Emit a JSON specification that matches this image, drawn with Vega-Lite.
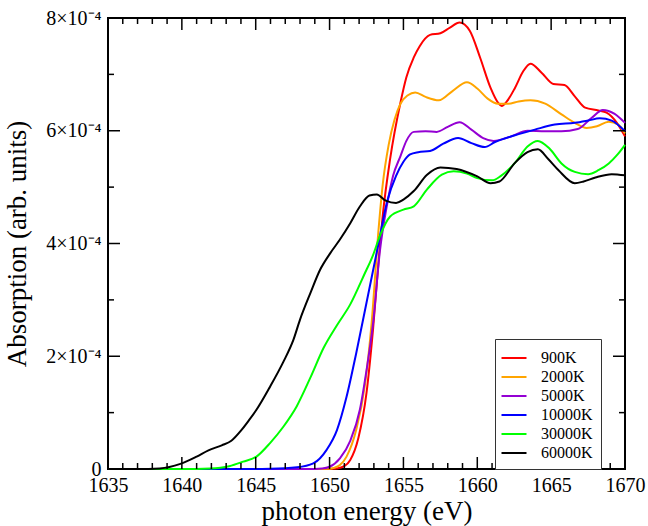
{
  "$schema": "https://vega.github.io/schema/vega-lite/v6.json",
  "width": 517,
  "height": 451,
  "autosize": {"type": "none"},
  "padding": {"left": 108, "top": 18, "right": 23, "bottom": 57},
  "background": "white",
  "config": {
    "font": "Liberation Serif",
    "view": {"stroke": "black", "strokeWidth": 2},
    "axis": {"domain": false, "grid": false, "ticks": false, "tickSize": 0, "labelOverlap": false, "labelFlush": false}
  },
  "datasets": {
    "curves": [
      {"T":"900K","E":1635,"A":0},{"T":"900K","E":1645,"A":0},{"T":"900K","E":1649,"A":0},{"T":"900K","E":1650,"A":0.003e-4},{"T":"900K","E":1650.5,"A":0.01e-4},{"T":"900K","E":1651,"A":0.05e-4},{"T":"900K","E":1651.4,"A":0.16e-4},{"T":"900K","E":1651.95,"A":0.55e-4},{"T":"900K","E":1652.5,"A":1.35e-4},{"T":"900K","E":1652.95,"A":2.5e-4},{"T":"900K","E":1653.4,"A":3.95e-4},{"T":"900K","E":1653.6,"A":4.5e-4},{"T":"900K","E":1654.1,"A":5.5e-4},{"T":"900K","E":1654.8,"A":6.5e-4},{"T":"900K","E":1655.2,"A":6.95e-4},{"T":"900K","E":1655.7,"A":7.3e-4},{"T":"900K","E":1656.1,"A":7.5e-4},{"T":"900K","E":1656.8,"A":7.7e-4},{"T":"900K","E":1657.5,"A":7.73e-4},{"T":"900K","E":1658.15,"A":7.83e-4},{"T":"900K","E":1658.8,"A":7.92e-4},{"T":"900K","E":1659.5,"A":7.77e-4},{"T":"900K","E":1660.2,"A":7.29e-4},{"T":"900K","E":1660.9,"A":6.76e-4},{"T":"900K","E":1661.4,"A":6.5e-4},{"T":"900K","E":1661.65,"A":6.44e-4},{"T":"900K","E":1662.0,"A":6.52e-4},{"T":"900K","E":1662.55,"A":6.76e-4},{"T":"900K","E":1663.1,"A":7.05e-4},{"T":"900K","E":1663.6,"A":7.19e-4},{"T":"900K","E":1664.35,"A":7.03e-4},{"T":"900K","E":1665.15,"A":6.83e-4},{"T":"900K","E":1665.9,"A":6.81e-4},{"T":"900K","E":1666.6,"A":6.61e-4},{"T":"900K","E":1667.3,"A":6.41e-4},{"T":"900K","E":1668.2,"A":6.36e-4},{"T":"900K","E":1668.75,"A":6.32e-4},{"T":"900K","E":1669.45,"A":6.14e-4},{"T":"900K","E":1670,"A":5.9e-4},
      {"T":"2000K","E":1635,"A":0},{"T":"2000K","E":1645,"A":0},{"T":"2000K","E":1649,"A":0},{"T":"2000K","E":1650,"A":0.005e-4},{"T":"2000K","E":1650.3,"A":0.02e-4},{"T":"2000K","E":1650.7,"A":0.07e-4},{"T":"2000K","E":1651.15,"A":0.22e-4},{"T":"2000K","E":1651.8,"A":0.69e-4},{"T":"2000K","E":1652.4,"A":1.5e-4},{"T":"2000K","E":1652.85,"A":2.6e-4},{"T":"2000K","E":1653.3,"A":4.2e-4},{"T":"2000K","E":1653.6,"A":5.05e-4},{"T":"2000K","E":1654.0,"A":5.75e-4},{"T":"2000K","E":1654.4,"A":6.2e-4},{"T":"2000K","E":1654.8,"A":6.48e-4},{"T":"2000K","E":1655.3,"A":6.63e-4},{"T":"2000K","E":1655.8,"A":6.68e-4},{"T":"2000K","E":1656.5,"A":6.6e-4},{"T":"2000K","E":1657.4,"A":6.54e-4},{"T":"2000K","E":1658.3,"A":6.7e-4},{"T":"2000K","E":1659.3,"A":6.86e-4},{"T":"2000K","E":1660.0,"A":6.75e-4},{"T":"2000K","E":1660.7,"A":6.57e-4},{"T":"2000K","E":1661.4,"A":6.48e-4},{"T":"2000K","E":1662.1,"A":6.48e-4},{"T":"2000K","E":1662.8,"A":6.52e-4},{"T":"2000K","E":1663.6,"A":6.54e-4},{"T":"2000K","E":1664.6,"A":6.48e-4},{"T":"2000K","E":1665.7,"A":6.29e-4},{"T":"2000K","E":1666.6,"A":6.14e-4},{"T":"2000K","E":1667.4,"A":6.05e-4},{"T":"2000K","E":1668.1,"A":6.08e-4},{"T":"2000K","E":1668.9,"A":6.16e-4},{"T":"2000K","E":1669.55,"A":6.11e-4},{"T":"2000K","E":1670,"A":5.95e-4},
      {"T":"5000K","E":1635,"A":0},{"T":"5000K","E":1645,"A":0},{"T":"5000K","E":1648.5,"A":0},{"T":"5000K","E":1649.5,"A":0.01e-4},{"T":"5000K","E":1650,"A":0.04e-4},{"T":"5000K","E":1650.7,"A":0.19e-4},{"T":"5000K","E":1651.4,"A":0.5e-4},{"T":"5000K","E":1652.05,"A":1.05e-4},{"T":"5000K","E":1652.5,"A":1.75e-4},{"T":"5000K","E":1652.95,"A":2.6e-4},{"T":"5000K","E":1653.4,"A":3.85e-4},{"T":"5000K","E":1653.9,"A":4.7e-4},{"T":"5000K","E":1654.3,"A":5.2e-4},{"T":"5000K","E":1654.8,"A":5.55e-4},{"T":"5000K","E":1655.2,"A":5.82e-4},{"T":"5000K","E":1655.7,"A":5.98e-4},{"T":"5000K","E":1656.5,"A":5.99e-4},{"T":"5000K","E":1657.25,"A":5.98e-4},{"T":"5000K","E":1658.0,"A":6.07e-4},{"T":"5000K","E":1658.8,"A":6.15e-4},{"T":"5000K","E":1659.6,"A":6.02e-4},{"T":"5000K","E":1660.4,"A":5.87e-4},{"T":"5000K","E":1661.1,"A":5.82e-4},{"T":"5000K","E":1662.3,"A":5.9e-4},{"T":"5000K","E":1663.4,"A":6.0e-4},{"T":"5000K","E":1664.6,"A":5.99e-4},{"T":"5000K","E":1665.7,"A":5.99e-4},{"T":"5000K","E":1666.8,"A":6.03e-4},{"T":"5000K","E":1667.75,"A":6.23e-4},{"T":"5000K","E":1668.5,"A":6.37e-4},{"T":"5000K","E":1669.3,"A":6.3e-4},{"T":"5000K","E":1670,"A":6.14e-4},
      {"T":"10000K","E":1635,"A":0},{"T":"10000K","E":1644,"A":0},{"T":"10000K","E":1646,"A":0.005e-4},{"T":"10000K","E":1647.8,"A":0.03e-4},{"T":"10000K","E":1648.9,"A":0.1e-4},{"T":"10000K","E":1649.8,"A":0.34e-4},{"T":"10000K","E":1650.5,"A":0.69e-4},{"T":"10000K","E":1651.15,"A":1.28e-4},{"T":"10000K","E":1651.8,"A":2.05e-4},{"T":"10000K","E":1652.5,"A":2.95e-4},{"T":"10000K","E":1653.2,"A":3.85e-4},{"T":"10000K","E":1653.9,"A":4.75e-4},{"T":"10000K","E":1654.5,"A":5.2e-4},{"T":"10000K","E":1655.0,"A":5.45e-4},{"T":"10000K","E":1655.45,"A":5.58e-4},{"T":"10000K","E":1656.0,"A":5.62e-4},{"T":"10000K","E":1656.8,"A":5.64e-4},{"T":"10000K","E":1657.7,"A":5.77e-4},{"T":"10000K","E":1658.7,"A":5.87e-4},{"T":"10000K","E":1659.6,"A":5.78e-4},{"T":"10000K","E":1660.5,"A":5.71e-4},{"T":"10000K","E":1661.2,"A":5.8e-4},{"T":"10000K","E":1662.55,"A":5.92e-4},{"T":"10000K","E":1663.9,"A":6.02e-4},{"T":"10000K","E":1665.25,"A":6.11e-4},{"T":"10000K","E":1666.6,"A":6.14e-4},{"T":"10000K","E":1667.5,"A":6.18e-4},{"T":"10000K","E":1668.3,"A":6.22e-4},{"T":"10000K","E":1669.1,"A":6.18e-4},{"T":"10000K","E":1670,"A":5.99e-4},
      {"T":"30000K","E":1635,"A":0},{"T":"30000K","E":1640,"A":0},{"T":"30000K","E":1641.9,"A":0.01e-4},{"T":"30000K","E":1643.2,"A":0.05e-4},{"T":"30000K","E":1644.15,"A":0.13e-4},{"T":"30000K","E":1645.05,"A":0.22e-4},{"T":"30000K","E":1645.97,"A":0.46e-4},{"T":"30000K","E":1646.87,"A":0.75e-4},{"T":"30000K","E":1647.77,"A":1.11e-4},{"T":"30000K","E":1648.7,"A":1.62e-4},{"T":"30000K","E":1649.6,"A":2.15e-4},{"T":"30000K","E":1650.5,"A":2.55e-4},{"T":"30000K","E":1651.4,"A":2.92e-4},{"T":"30000K","E":1652.35,"A":3.45e-4},{"T":"30000K","E":1652.95,"A":3.8e-4},{"T":"30000K","E":1653.4,"A":4.13e-4},{"T":"30000K","E":1654.1,"A":4.48e-4},{"T":"30000K","E":1655.0,"A":4.6e-4},{"T":"30000K","E":1655.7,"A":4.66e-4},{"T":"30000K","E":1656.6,"A":4.96e-4},{"T":"30000K","E":1657.6,"A":5.22e-4},{"T":"30000K","E":1658.4,"A":5.28e-4},{"T":"30000K","E":1659.3,"A":5.24e-4},{"T":"30000K","E":1660.0,"A":5.16e-4},{"T":"30000K","E":1661.0,"A":5.12e-4},{"T":"30000K","E":1661.6,"A":5.2e-4},{"T":"30000K","E":1662.55,"A":5.43e-4},{"T":"30000K","E":1663.4,"A":5.72e-4},{"T":"30000K","E":1664.1,"A":5.82e-4},{"T":"30000K","E":1664.9,"A":5.68e-4},{"T":"30000K","E":1665.7,"A":5.42e-4},{"T":"30000K","E":1666.6,"A":5.27e-4},{"T":"30000K","E":1667.5,"A":5.23e-4},{"T":"30000K","E":1668.2,"A":5.3e-4},{"T":"30000K","E":1668.9,"A":5.42e-4},{"T":"30000K","E":1669.5,"A":5.58e-4},{"T":"30000K","E":1670,"A":5.75e-4},
      {"T":"60000K","E":1635,"A":0},{"T":"60000K","E":1637,"A":0},{"T":"60000K","E":1638.5,"A":0.01e-4},{"T":"60000K","E":1639.9,"A":0.09e-4},{"T":"60000K","E":1641,"A":0.22e-4},{"T":"60000K","E":1641.8,"A":0.33e-4},{"T":"60000K","E":1642.7,"A":0.42e-4},{"T":"60000K","E":1643.35,"A":0.5e-4},{"T":"60000K","E":1644.0,"A":0.68e-4},{"T":"60000K","E":1644.5,"A":0.85e-4},{"T":"60000K","E":1645.05,"A":1.05e-4},{"T":"60000K","E":1645.97,"A":1.46e-4},{"T":"60000K","E":1646.87,"A":1.9e-4},{"T":"60000K","E":1647.55,"A":2.29e-4},{"T":"60000K","E":1648.0,"A":2.65e-4},{"T":"60000K","E":1648.7,"A":3.12e-4},{"T":"60000K","E":1649.35,"A":3.53e-4},{"T":"60000K","E":1650.05,"A":3.83e-4},{"T":"60000K","E":1650.7,"A":4.07e-4},{"T":"60000K","E":1651.4,"A":4.36e-4},{"T":"60000K","E":1652.06,"A":4.66e-4},{"T":"60000K","E":1652.7,"A":4.85e-4},{"T":"60000K","E":1653.2,"A":4.87e-4},{"T":"60000K","E":1653.8,"A":4.76e-4},{"T":"60000K","E":1654.5,"A":4.72e-4},{"T":"60000K","E":1655.0,"A":4.78e-4},{"T":"60000K","E":1655.7,"A":4.93e-4},{"T":"60000K","E":1656.6,"A":5.22e-4},{"T":"60000K","E":1657.5,"A":5.35e-4},{"T":"60000K","E":1658.6,"A":5.32e-4},{"T":"60000K","E":1660.0,"A":5.19e-4},{"T":"60000K","E":1660.9,"A":5.07e-4},{"T":"60000K","E":1661.5,"A":5.1e-4},{"T":"60000K","E":1662.55,"A":5.43e-4},{"T":"60000K","E":1663.4,"A":5.62e-4},{"T":"60000K","E":1664.1,"A":5.67e-4},{"T":"60000K","E":1664.8,"A":5.5e-4},{"T":"60000K","E":1665.5,"A":5.3e-4},{"T":"60000K","E":1666.6,"A":5.07e-4},{"T":"60000K","E":1667.2,"A":5.1e-4},{"T":"60000K","E":1668.0,"A":5.17e-4},{"T":"60000K","E":1669.1,"A":5.23e-4},{"T":"60000K","E":1670,"A":5.21e-4}
    ],
    "xticks": [
      {"E":1635,"kind":"major"},{"E":1636,"kind":"minor"},{"E":1637,"kind":"minor"},{"E":1638,"kind":"minor"},{"E":1639,"kind":"minor"},
      {"E":1640,"kind":"major"},{"E":1641,"kind":"minor"},{"E":1642,"kind":"minor"},{"E":1643,"kind":"minor"},{"E":1644,"kind":"minor"},
      {"E":1645,"kind":"major"},{"E":1646,"kind":"minor"},{"E":1647,"kind":"minor"},{"E":1648,"kind":"minor"},{"E":1649,"kind":"minor"},
      {"E":1650,"kind":"major"},{"E":1651,"kind":"minor"},{"E":1652,"kind":"minor"},{"E":1653,"kind":"minor"},{"E":1654,"kind":"minor"},
      {"E":1655,"kind":"major"},{"E":1656,"kind":"minor"},{"E":1657,"kind":"minor"},{"E":1658,"kind":"minor"},{"E":1659,"kind":"minor"},
      {"E":1660,"kind":"major"},{"E":1661,"kind":"minor"},{"E":1662,"kind":"minor"},{"E":1663,"kind":"minor"},{"E":1664,"kind":"minor"},
      {"E":1665,"kind":"major"},{"E":1666,"kind":"minor"},{"E":1667,"kind":"minor"},{"E":1668,"kind":"minor"},{"E":1669,"kind":"minor"},
      {"E":1670,"kind":"major"}
    ],
    "yticks": [
      {"A":0,"kind":"major"},{"A":1e-4,"kind":"minor"},{"A":2e-4,"kind":"major"},{"A":3e-4,"kind":"minor"},{"A":4e-4,"kind":"major"},
      {"A":5e-4,"kind":"minor"},{"A":6e-4,"kind":"major"},{"A":7e-4,"kind":"minor"},{"A":8e-4,"kind":"major"}
    ]
  },
  "layer": [
    {
      "data": {"name": "curves"},
      "mark": {"type": "line", "interpolate": "monotone", "strokeWidth": 2},
      "encoding": {
        "x": {
          "field": "E", "type": "quantitative",
          "scale": {"domain": [1635, 1670], "nice": false, "zero": false},
          "axis": {
            "orient": "bottom",
            "values": [1635, 1640, 1645, 1650, 1655, 1660, 1665, 1670],
            "format": "d",
            "labelFont": "Liberation Serif",
            "labelFontSize": 20,
            "labelColor": "black",
            "labelPadding": 6,
            "title": "photon energy (eV)",
            "titleFont": "Liberation Serif",
            "titleFontSize": 27,
            "titleFontWeight": "normal",
            "titleColor": "black",
            "titlePadding": 3
          }
        },
        "y": {
          "field": "A", "type": "quantitative",
          "scale": {"domain": [0, 8e-4], "nice": false},
          "axis": {
            "orient": "left",
            "values": [0, 2e-4, 4e-4, 6e-4, 8e-4],
            "labelExpr": "datum.value == 0 ? '0' : round(datum.value * 1e4) + '×10⁻⁴'",
            "labelFont": "Liberation Serif",
            "labelFontSize": 20,
            "labelColor": "black",
            "labelPadding": 7,
            "title": "Absorption (arb. units)",
            "titleFont": "Liberation Serif",
            "titleFontSize": 27,
            "titleFontWeight": "normal",
            "titleColor": "black",
            "titlePadding": 14
          }
        },
        "color": {
          "field": "T", "type": "nominal",
          "scale": {
            "domain": ["900K", "2000K", "5000K", "10000K", "30000K", "60000K"],
            "range": ["#ff0000", "#ffa500", "#9400d3", "#0000ff", "#00ff00", "#000000"]
          },
          "legend": {
            "orient": "none",
            "legendX": 387,
            "legendY": 321,
            "title": null,
            "symbolType": "M-1.25,0H1.25",
            "symbolSize": 400,
            "symbolStrokeWidth": 2,
            "symbolFillColor": "transparent",
            "labelFont": "Liberation Serif",
            "labelFontSize": 16,
            "labelColor": "black",
            "labelOffset": 16,
            "strokeColor": "#333333",
            "fillColor": "white",
            "padding": 8,
            "rowPadding": 0
          }
        }
      }
    },
    {
      "data": {"name": "xticks"},
      "transform": [{"filter": "datum.kind == 'major'"}],
      "mark": {"type": "point", "shape": "M0,0V-2", "size": 144, "filled": false, "stroke": "black", "strokeWidth": 1.5, "opacity": 1},
      "encoding": {"x": {"field": "E", "type": "quantitative"}, "y": {"datum": 0}}
    },
    {
      "data": {"name": "xticks"},
      "transform": [{"filter": "datum.kind == 'minor'"}],
      "mark": {"type": "point", "shape": "M0,0V-2", "size": 36, "filled": false, "stroke": "black", "strokeWidth": 1.5, "opacity": 1},
      "encoding": {"x": {"field": "E", "type": "quantitative"}, "y": {"datum": 0}}
    },
    {
      "data": {"name": "xticks"},
      "transform": [{"filter": "datum.kind == 'major'"}],
      "mark": {"type": "point", "shape": "M0,0V2", "size": 144, "filled": false, "stroke": "black", "strokeWidth": 1.5, "opacity": 1},
      "encoding": {"x": {"field": "E", "type": "quantitative"}, "y": {"datum": 8e-4}}
    },
    {
      "data": {"name": "xticks"},
      "transform": [{"filter": "datum.kind == 'minor'"}],
      "mark": {"type": "point", "shape": "M0,0V2", "size": 36, "filled": false, "stroke": "black", "strokeWidth": 1.5, "opacity": 1},
      "encoding": {"x": {"field": "E", "type": "quantitative"}, "y": {"datum": 8e-4}}
    },
    {
      "data": {"name": "yticks"},
      "transform": [{"filter": "datum.kind == 'major'"}],
      "mark": {"type": "point", "shape": "M0,0H2", "size": 144, "filled": false, "stroke": "black", "strokeWidth": 1.5, "opacity": 1},
      "encoding": {"y": {"field": "A", "type": "quantitative"}, "x": {"datum": 1635}}
    },
    {
      "data": {"name": "yticks"},
      "transform": [{"filter": "datum.kind == 'minor'"}],
      "mark": {"type": "point", "shape": "M0,0H2", "size": 36, "filled": false, "stroke": "black", "strokeWidth": 1.5, "opacity": 1},
      "encoding": {"y": {"field": "A", "type": "quantitative"}, "x": {"datum": 1635}}
    },
    {
      "data": {"name": "yticks"},
      "transform": [{"filter": "datum.kind == 'major'"}],
      "mark": {"type": "point", "shape": "M0,0H-2", "size": 144, "filled": false, "stroke": "black", "strokeWidth": 1.5, "opacity": 1},
      "encoding": {"y": {"field": "A", "type": "quantitative"}, "x": {"datum": 1670}}
    },
    {
      "data": {"name": "yticks"},
      "transform": [{"filter": "datum.kind == 'minor'"}],
      "mark": {"type": "point", "shape": "M0,0H-2", "size": 36, "filled": false, "stroke": "black", "strokeWidth": 1.5, "opacity": 1},
      "encoding": {"y": {"field": "A", "type": "quantitative"}, "x": {"datum": 1670}}
    }
  ]
}
